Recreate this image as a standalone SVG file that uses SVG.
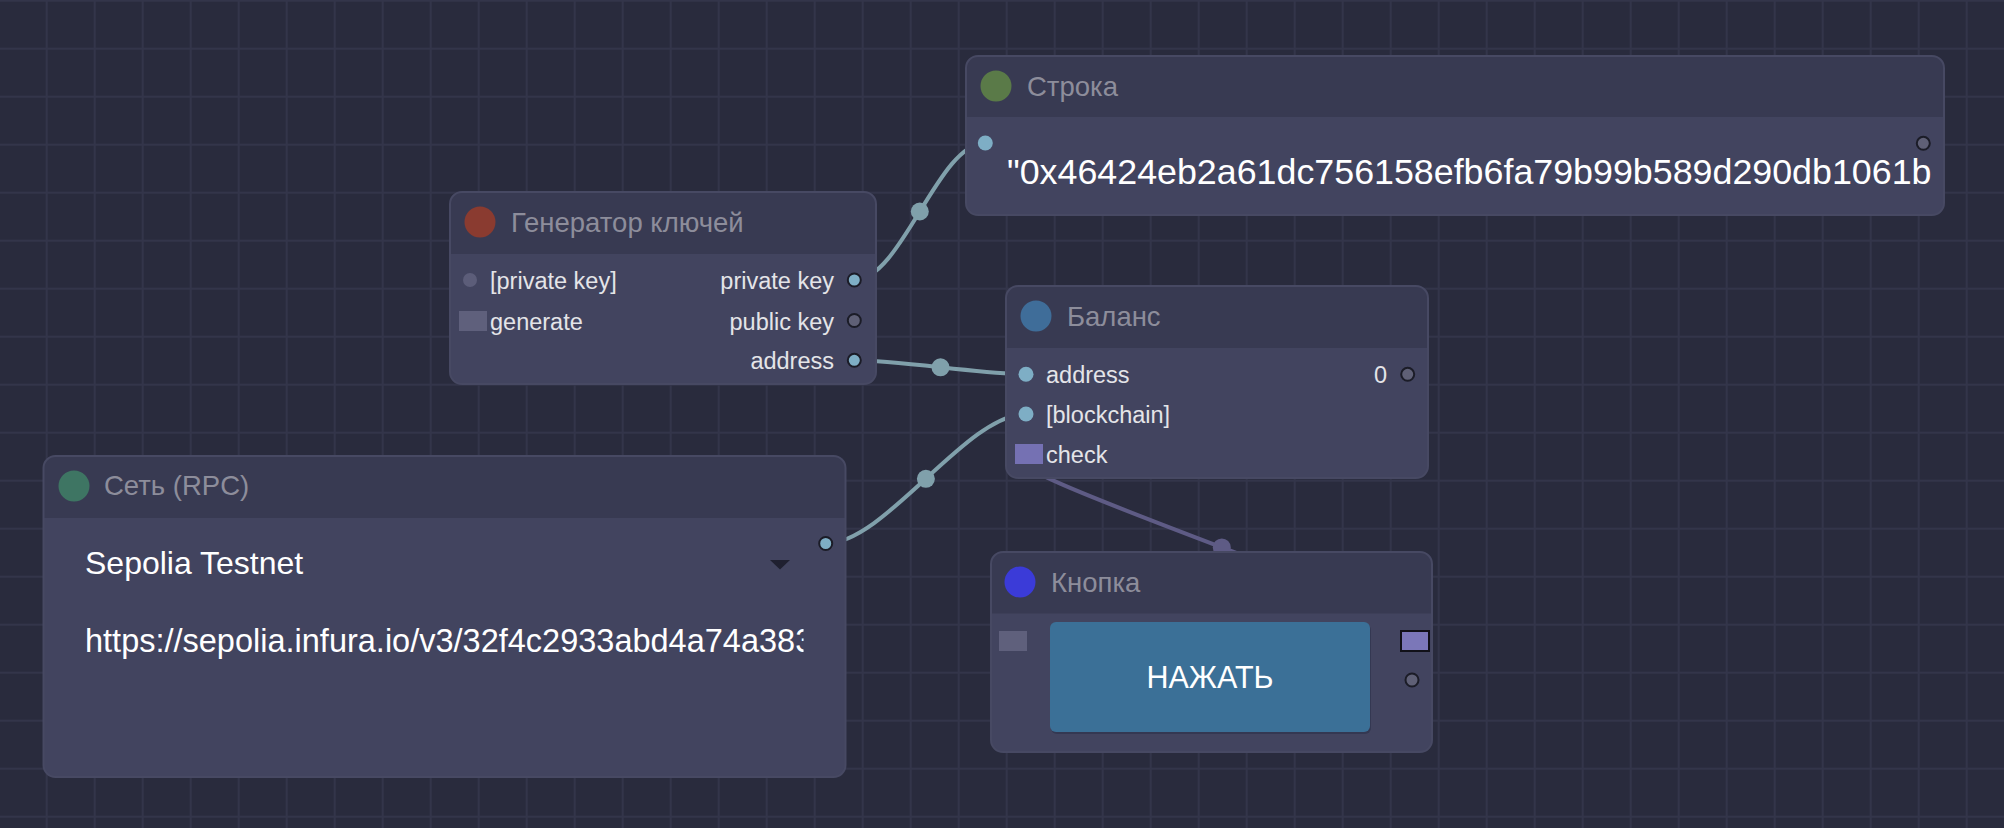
<svg xmlns="http://www.w3.org/2000/svg" width="2004" height="828" viewBox="0 0 2004 828">
<defs>
<pattern id="grid" patternUnits="userSpaceOnUse" x="-2.3" y="-0.3" width="48" height="48">
<rect width="48" height="48" fill="#292b3d"/>
<rect x="0" y="0" width="2" height="48" fill="#33354a"/>
<rect x="0" y="0" width="48" height="2" fill="#33354a"/>
</pattern>
<clipPath id="clipHex"><rect x="995" y="100" width="937" height="110"/></clipPath>
<clipPath id="clipUrl"><rect x="80" y="610" width="723.5" height="60"/></clipPath>
<style>
.body{fill:#42445f}
.head{fill:#383a52}
.border{fill:none;stroke:#474963;stroke-width:2}
.title{font-family:"Liberation Sans",Arial,sans-serif;font-size:27.5px;fill:#8d8d9b}
.lbl{font-family:"Liberation Sans",Arial,sans-serif;font-size:23.5px;fill:#e4e4e8}
.r{text-anchor:end}
.big{font-family:"Liberation Sans",Arial,sans-serif;fill:#ffffff}
.link{fill:none;stroke:#80a0ab;stroke-width:4}
.linkdot{fill:#80a0ab}
.evlink{fill:none;stroke:#5e5b85;stroke-width:4}
.evdot{fill:#5e5b85}
.inOn{fill:#7eaec5}
.inOff{fill:#5c5d79}
.outOn{fill:#7eaec5;stroke:#1b1c27;stroke-width:2}
.outOff{fill:#5f6076;stroke:#1b1c27;stroke-width:2}
.evOff{fill:#5f607c}
.evOn{fill:#7571b3}
</style>
</defs>
<rect width="2004" height="828" fill="url(#grid)"/>

<g id="connectors">
<path class="link" d="M854.3,280 C901.7,280 937.9,143 985.3,143"/>
<circle class="linkdot" cx="919.8" cy="211.5" r="9"/>
<path class="link" d="M855,360.3 C897.9,360.3 983.1,374.3 1026,374.3"/>
<circle class="linkdot" cx="940.5" cy="367.3" r="9"/>
<path class="link" d="M825.7,543.5 C885.3,543.5 966.4,414 1026,414"/>
<circle class="linkdot" cx="925.9" cy="478.8" r="9"/>
<path class="evlink" d="M1414.5,640.7 C1521.5,640.7 922,454 1029,454"/>
<circle class="evdot" cx="1221.8" cy="547.4" r="9"/>
</g>

<g id="node-generator">
<rect class="body" x="450" y="192" width="426" height="192" rx="12"/>
<path class="head" d="M450,254 V204 Q450,192 462,192 H864 Q876,192 876,204 V254 Z"/>
<rect class="border" x="450" y="192" width="426" height="192" rx="12"/>
<circle cx="480" cy="222" r="15.5" fill="#8a3b30"/>
<text class="title" x="511" y="232">Генератор ключей</text>
<circle class="inOff" cx="470" cy="280" r="7"/>
<text class="lbl" x="490" y="289">[private key]</text>
<rect class="evOff" x="459" y="311" width="28" height="20"/>
<text class="lbl" x="490" y="329.5">generate</text>
<text class="lbl r" x="834" y="289">private key</text>
<text class="lbl r" x="834" y="329.5">public key</text>
<text class="lbl r" x="834" y="369">address</text>
<circle class="outOn" cx="854.3" cy="280" r="6.5"/>
<circle class="outOff" cx="854.3" cy="320.5" r="6.5"/>
<circle class="outOn" cx="854.3" cy="360.3" r="6.5"/>
</g>

<g id="node-string">
<rect class="body" x="966" y="56" width="978" height="159" rx="12"/>
<path class="head" d="M966,117 V68 Q966,56 978,56 H1932 Q1944,56 1944,68 V117 Z"/>
<rect class="border" x="966" y="56" width="978" height="159" rx="12"/>
<circle cx="996" cy="86" r="15.5" fill="#5a7a48"/>
<text class="title" x="1027" y="96">Строка</text>
<circle class="inOn" cx="985.3" cy="143" r="7.5"/>
<circle class="outOff" cx="1923.3" cy="143.3" r="6.5"/>
<text class="big" x="1007" y="184" font-size="35.8" clip-path="url(#clipHex)">"0x46424eb2a61dc756158efb6fa79b99b589d290db1061b</text>
</g>

<g id="node-balance">
<rect class="body" x="1006" y="286" width="422" height="192" rx="12"/>
<path class="head" d="M1006,348 V298 Q1006,286 1018,286 H1416 Q1428,286 1428,298 V348 Z"/>
<rect class="border" x="1006" y="286" width="422" height="192" rx="12"/>
<circle cx="1036" cy="316" r="15.5" fill="#3f6d99"/>
<text class="title" x="1067" y="326">Баланс</text>
<circle class="inOn" cx="1026" cy="374.3" r="7.5"/>
<text class="lbl" x="1046" y="383.3">address</text>
<circle class="inOn" cx="1026" cy="414" r="7.5"/>
<text class="lbl" x="1046" y="423">[blockchain]</text>
<rect class="evOn" x="1015" y="444" width="28" height="20"/>
<text class="lbl" x="1046" y="463">check</text>
<text class="lbl r" x="1387" y="383.3">0</text>
<circle class="outOff" cx="1407.7" cy="374.3" r="6.5"/>
</g>

<g id="node-button">
<rect class="body" x="991" y="552" width="441" height="200" rx="12"/>
<path class="head" d="M991,613.5 V564 Q991,552 1003,552 H1420 Q1432,552 1432,564 V613.5 Z"/>
<rect class="border" x="991" y="552" width="441" height="200" rx="12"/>
<circle cx="1020" cy="582" r="15.5" fill="#3b3bd8"/>
<text class="title" x="1051" y="592">Кнопка</text>
<rect class="evOff" x="999" y="631" width="28" height="20"/>
<rect x="1051" y="624" width="320" height="110" rx="6" fill="#2c304a" opacity="0.6"/>
<rect x="1050" y="622" width="320" height="110" rx="6" fill="#3b7097"/>
<text class="big" x="1210" y="687.5" font-size="30.5" text-anchor="middle">НАЖАТЬ</text>
<rect x="1401" y="631" width="28" height="20" fill="#7b77b8" stroke="#111118" stroke-width="2"/>
<circle class="outOff" cx="1412" cy="680" r="6.5"/>
</g>

<g id="node-network">
<rect class="body" x="43.5" y="456" width="802" height="321" rx="12"/>
<path class="head" d="M43.5,518 V468 Q43.5,456 55.5,456 H833.5 Q845.5,456 845.5,468 V518 Z"/>
<rect class="border" x="43.5" y="456" width="802" height="321" rx="12"/>
<circle cx="74" cy="486" r="15.5" fill="#3e7563"/>
<text class="title" x="104" y="495">Сеть (RPC)</text>
<text class="big" x="85" y="573.5" font-size="32">Sepolia Testnet</text>
<polygon points="770,560 790,560 780,569.5" fill="#1f2030"/>
<text class="big" x="85" y="652" font-size="32.5" clip-path="url(#clipUrl)">https://sepolia.infura.io/v3/32f4c2933abd4a74a383</text>
<circle class="outOn" cx="825.7" cy="543.5" r="6.5"/>
</g>
</svg>
